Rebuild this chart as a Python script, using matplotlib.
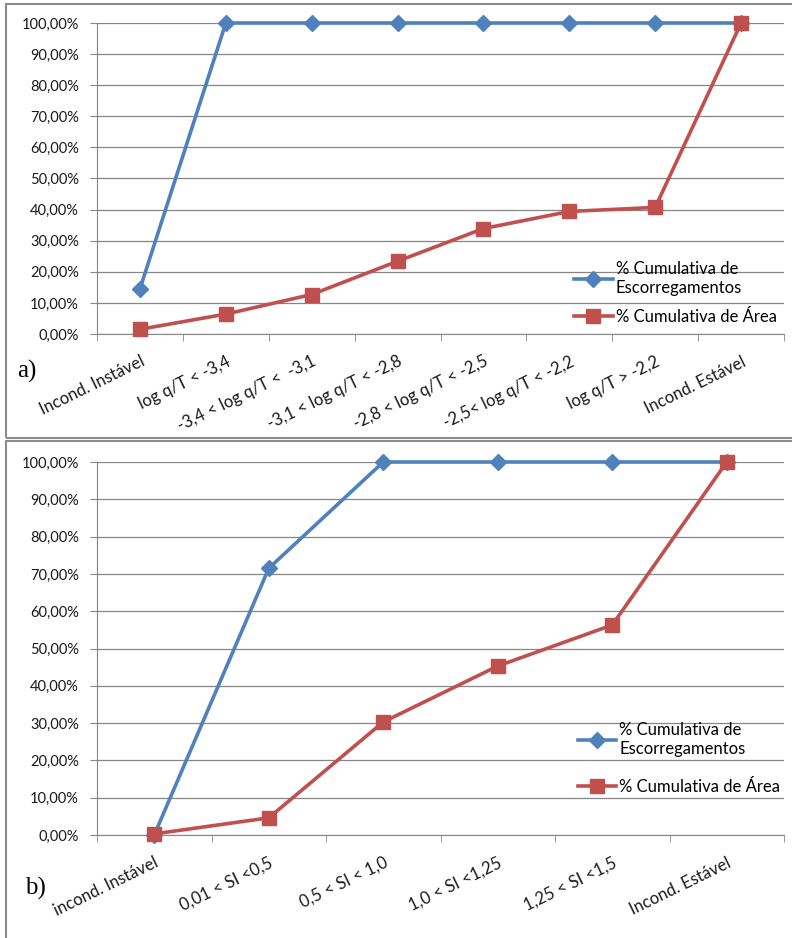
import matplotlib
matplotlib.use("Agg")
import matplotlib.pyplot as plt
from matplotlib.patches import Rectangle
from matplotlib.ticker import FuncFormatter, FixedLocator

# Painel a) - classes de log q/T
cats_a = ["Incond. Instável", "log q/T < -3,4", "-3,4 < log q/T <  -3,1",
          "-3,1 < log q/T < -2,8", "-2,8 < log q/T < -2,5", "-2,5< log q/T < -2,2",
          "log q/T > -2,2", "Incond. Estável"]
escorreg_a = [0.145, 1.0, 1.0, 1.0, 1.0, 1.0, 1.0, 1.0]
area_a = [0.015, 0.064, 0.127, 0.234, 0.339, 0.394, 0.407, 1.0]

# Painel b) - classes de SI
cats_b = ["incond. Instável", "0,01 < SI <0,5", "0,5 < SI < 1,0",
          "1,0 < SI <1,25", "1,25 < SI <1,5", "Incond. Estável"]
escorreg_b = [0.0, 0.715, 1.0, 1.0, 1.0, 1.0]
area_b = [0.003, 0.046, 0.303, 0.453, 0.563, 1.0]

AZUL = "#4F81BD"
VERMELHO = "#C0504D"
CINZA = "#868686"
FONTE = "Lato"

fig = plt.figure(figsize=(7.92, 9.38), dpi=100)

# molduras dos paineis
fig.add_artist(Rectangle((6 / 792, 1 - 438 / 938), 1.0, 434 / 938, transform=fig.transFigure,
                         fill=False, edgecolor="#8C8C8C", linewidth=1.5))
fig.add_artist(Rectangle((6 / 792, -0.01), 1.0, 1 - 441 / 938 + 0.01, transform=fig.transFigure,
                         fill=False, edgecolor="#8C8C8C", linewidth=1.5))


def desenha(ax, cats, esc, area, leg_pos, espaco, letra, letra_pos):
    n = len(cats)
    x = list(range(n))
    ax.plot(x, esc, color=AZUL, lw=2.6, marker="D", markersize=8,
            label="% Cumulativa de\nEscorregamentos", zorder=3, clip_on=False)
    ax.plot(x, area, color=VERMELHO, lw=2.6, marker="s", markersize=9.5,
            label="% Cumulativa de Área", zorder=4, clip_on=False)
    ax.set_xlim(-0.5, n - 0.5)
    ax.set_ylim(0, 1)
    ax.set_yticks([i / 10 for i in range(11)])
    ax.yaxis.set_major_formatter(FuncFormatter(lambda v, p: f"{v * 100:.2f}%".replace(".", ",")))
    ax.grid(axis="y", color=CINZA, lw=0.9)
    ax.set_axisbelow(True)
    ax.set_xticks(x)
    ax.set_xticklabels(cats, rotation=26, ha="right", rotation_mode="anchor", fontsize=12,
                       family=FONTE, color="#1a1a1a")
    ax.xaxis.set_minor_locator(FixedLocator([i - 0.5 for i in range(n + 1)]))
    ax.tick_params(axis="x", which="major", length=0, pad=14)
    ax.tick_params(axis="x", which="minor", length=5, color=CINZA)
    ax.tick_params(axis="y", length=5, color=CINZA, pad=8, labelsize=10.5, labelcolor="#1a1a1a")
    for t in ax.get_yticklabels():
        t.set_family(FONTE)
    for s in ["top", "right"]:
        ax.spines[s].set_visible(False)
    for s in ["left", "bottom"]:
        ax.spines[s].set_color(CINZA)
    ax.legend(loc="upper left", bbox_to_anchor=leg_pos, frameon=False, handlelength=2.3,
              handletextpad=0.2, labelspacing=espaco, borderaxespad=0,
              prop={"family": FONTE, "size": 12})
    fig.text(letra_pos[0], letra_pos[1], letra, family="Liberation Serif", fontsize=18,
             va="baseline")


ax_a = fig.add_axes([97 / 792, 1 - 334 / 938, 687 / 792, 311 / 938])
desenha(ax_a, cats_a, escorreg_a, area_a, (0.685, 0.255), 0.8, "a)", (17 / 792, 1 - 378 / 938))

ax_b = fig.add_axes([97 / 792, 1 - 835 / 938, 687 / 792, 373 / 938])
desenha(ax_b, cats_b, escorreg_b, area_b, (0.69, 0.32), 1.3, "b)", (25 / 792, 1 - 895 / 938))

fig.savefig("out.png", dpi=100)
